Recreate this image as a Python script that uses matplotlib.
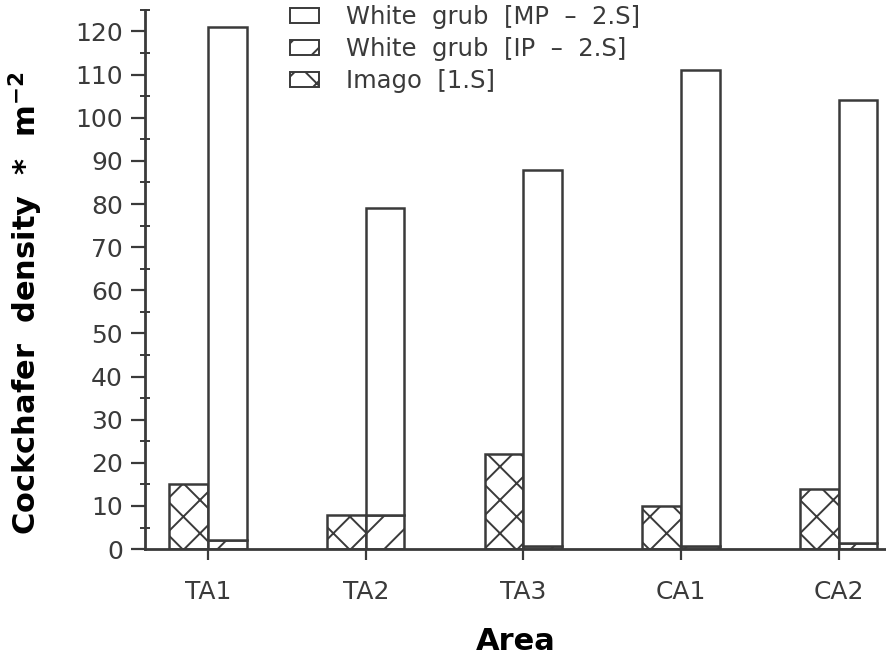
import numpy as np
import matplotlib

matplotlib.use("Agg")
import matplotlib.pyplot as plt
from matplotlib.patches import Patch
from matplotlib.ticker import MultipleLocator

areas = ["TA1", "TA2", "TA3", "CA1", "CA2"]
imago = [15, 8, 22, 10, 14]
grub_ip = [2, 8, 0.8, 0.8, 1.5]
grub_total = [121, 79, 88, 111, 104]
grub_mp = [t - ip for t, ip in zip(grub_total, grub_ip)]

INK = "#3a3a3a"

plt.rcParams.update(
    {
        "font.family": ["DejaVu Sans"],
        "hatch.linewidth": 1.4,
        "hatch.color": INK,
        "text.color": INK,
        "axes.edgecolor": INK,
        "xtick.color": INK,
        "ytick.color": INK,
    }
)

fig = plt.figure(figsize=(8.86, 6.6), dpi=100)
ax = fig.add_axes([0.1637, 0.168, 0.8363, 0.817])

x = np.arange(len(areas))
w = 0.245
bar_kw = dict(edgecolor=INK, linewidth=1.8, facecolor="white")
ax.bar(x - w / 2, imago, w, hatch="x", **bar_kw)
ax.bar(x + w / 2, grub_ip, w, hatch="/", **bar_kw)
ax.bar(x + w / 2, grub_mp, w, bottom=grub_ip, **bar_kw)

ax.set_xlim(-0.4, 4.3)
ax.set_ylim(0, 125)
ax.spines["top"].set_visible(False)
ax.spines["right"].set_visible(False)
ax.spines["left"].set_linewidth(2)
ax.spines["bottom"].set_linewidth(2)

ax.yaxis.set_minor_locator(MultipleLocator(5))
ax.set_yticks(np.arange(0, 121, 10))
ax.tick_params(axis="y", which="major", direction="out", length=10, width=1.6, labelsize=18, pad=6)
ax.tick_params(axis="y", which="minor", direction="inout", length=7, width=1.4)
ax.set_xticks(x)
ax.set_xticklabels(areas)
ax.tick_params(axis="x", direction="out", length=8, width=1.6, labelsize=18, pad=14)

ax.set_ylabel("Cockchafer  density  *  m$^{\\mathbf{-2}}$", fontsize=22, fontweight="bold")
ax.yaxis.set_label_coords(-0.135, 0.456)
ax.set_xlabel("Area", fontsize=22, fontweight="bold")
ax.xaxis.label.set_va("baseline")
ax.xaxis.set_label_coords(0.5, -0.188)

handles = [
    Patch(facecolor="white", edgecolor=INK, linewidth=1.4),
    Patch(facecolor="white", edgecolor=INK, linewidth=1.4, hatch="/"),
    Patch(facecolor="white", edgecolor=INK, linewidth=1.4, hatch="x"),
]
labels = ["White  grub  [MP  \u2013  2.S]", "White  grub  [IP  \u2013  2.S]", "Imago  [1.S]"]
ax.legend(
    handles,
    labels,
    loc="upper left",
    bbox_to_anchor=(0.166, 1.05),
    frameon=False,
    fontsize=17.5,
    handlelength=1.2,
    handleheight=0.6,
    handletextpad=1.1,
    labelspacing=0.34,
)

fig.savefig("out.png", dpi=100, facecolor="white")
